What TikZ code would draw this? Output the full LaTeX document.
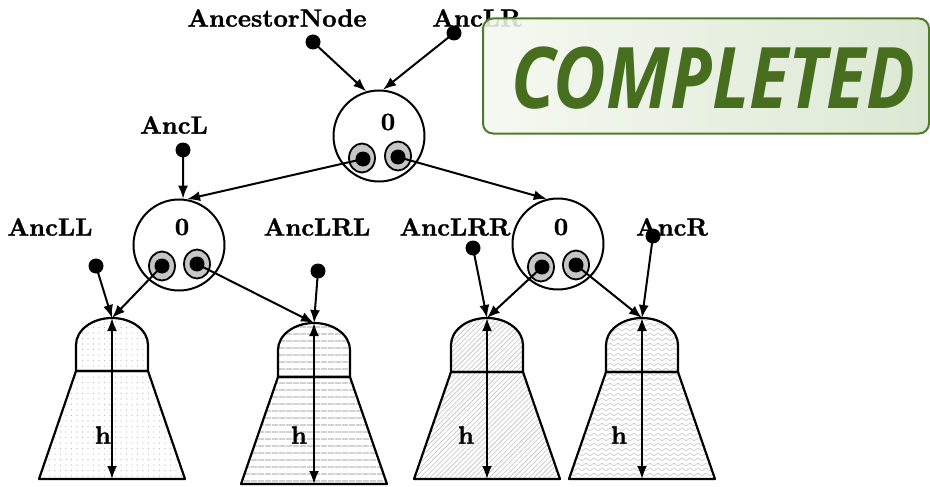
\documentclass[tikz,border=0pt]{standalone}
\usepackage{fontspec}
\newfontfamily\stampfont[FakeStretch=0.85]{Open Sans}
\newfontfamily\lblfont[FakeBold=1.2]{lmroman10-bold.otf}
\usetikzlibrary{arrows.meta,patterns,patterns.meta,shapes.geometric}
\definecolor{stampgreen}{HTML}{466E1E}
\definecolor{stampedge}{HTML}{4E7A2A}
\definecolor{stampleft}{HTML}{F4F8F0}
\definecolor{stampright}{HTML}{D7E5CD}
\tikzdeclarepattern{name=mywaves, type=colored,
  bounding box={(-0.1pt,-0.1pt) and (8.1pt,5.1pt)}, tile size={(8pt,5pt)},
  code={\draw[gray!45,line width=0.6pt] (0pt,2.5pt) sin (2pt,3.8pt) cos (4pt,2.5pt) sin (6pt,1.2pt) cos (8pt,2.5pt);}}
\tikzset{
  lbl/.style={font=\lblfont\fontsize{25}{30}\selectfont, inner sep=0pt},
  bignode/.style={circle, draw, line width=2pt, minimum size=91pt, inner sep=0pt},
  port/.style={ellipse, draw, fill=gray!45, line width=1.8pt, minimum width=26pt, minimum height=29pt, inner sep=0pt},
  blackdot/.style={circle, fill=black, minimum size=15pt, inner sep=0pt},
  arr/.style={-{Latex[length=13pt,width=10pt]}, line width=2pt},
  harr/.style={{Latex[length=13pt,width=10pt]}-{Latex[length=13pt,width=10pt]}, line width=2pt},
  treeline/.style={line width=2.2pt, line join=round},
}
% #1 cx, #2 top y, #3 side start y, #4 rect bottom, #5 bottom y, #6 pattern, #7 name, #8 h x
\newcommand\treeglyph[8]{%
  \coordinate (t#7) at (#1,#2);
  \coordinate (b#7) at (#1,#5);
  \fill[#6] (#1-36,#3) arc[start angle=180,end angle=360,x radius=36,y radius=#3-#2] -- (#1+36,#4) -- (#1+73,#5) -- (#1-73,#5) -- (#1-36,#4) -- cycle;
  \draw[treeline] (#1-36,#3) arc[start angle=180,end angle=360,x radius=36,y radius=#3-#2] -- (#1+36,#4) -- (#1-36,#4) -- cycle;
  \draw[treeline] (#1-36,#4) -- (#1+36,#4) -- (#1+73,#5) -- (#1-73,#5) -- cycle;
  \draw[harr] (t#7) -- (b#7);
  \node[lbl] (h#7) at (#8,435) {h};
}
\begin{document}
\begin{tikzpicture}[x=1pt,y=-1pt]
\useasboundingbox (0,0) rectangle (930,487);

% trees
\treeglyph{112}{318}{345}{371}{479}{pattern={Dots[distance=5.5pt,radius=0.7pt]},pattern color=gray!55}{1}{103}
\treeglyph{314}{323}{350}{377}{484}{pattern={Lines[angle=0,distance=6.5pt,line width=2pt]},pattern color=gray!35}{2}{299}
\treeglyph{487}{318}{345}{372}{479}{pattern={Lines[angle=45,distance=3.5pt,line width=0.6pt]},pattern color=gray!50}{3}{466}
\treeglyph{642}{318}{345}{372}{479}{pattern=mywaves}{4}{619}

% big nodes
\node[bignode] (top) at (379,136) {};
\node[bignode] (L) at (179,245) {};
\node[bignode] (R) at (558,244) {};
\node[lbl] (ztop) at (388,122) {0};
\node[lbl] (zL) at (182,227) {0};
\node[lbl] (zR) at (561,227) {0};

% ports
\node[port] (topPl) at (362,158) {};
\node[port] (topPr) at (398,156) {};
\node[port] (LPl) at (162,266) {};
\node[port] (LPr) at (197,264) {};
\node[port] (RPl) at (541,267) {};
\node[port] (RPr) at (576,265) {};
\node[blackdot] (topDl) at (363,159) {};
\node[blackdot] (topDr) at (398,157) {};
\node[blackdot] (LDl) at (162,266) {};
\node[blackdot] (LDr) at (197,264) {};
\node[blackdot] (RDl) at (542,267) {};
\node[blackdot] (RDr) at (576,265) {};

% labels
\node[lbl] (lAncestor) at (277,18) {AncestorNode};
\node[lbl] (lAncLR) at (477,18) {AncLR};
\node[lbl] (lAncL) at (174,125) {AncL};
\node[lbl] (lAncLL) at (50,227) {AncLL};
\node[lbl] (lAncLRL) at (317,227) {AncLRL};
\node[lbl] (lAncLRR) at (455,227) {AncLRR};
\node[lbl] (lAncR) at (672,227) {AncR};

% pointer dots
\node[blackdot] (dAncestor) at (313,42) {};
\node[blackdot] (dAncLR) at (454,33) {};
\node[blackdot] (dAncL) at (183,150) {};
\node[blackdot] (dAncLL) at (96,266) {};
\node[blackdot] (dAncLRL) at (318,271) {};
\node[blackdot] (dAncLRR) at (473,248) {};
\node[blackdot] (dAncR) at (653,236) {};

% connectors
\draw[arr] (dAncestor.center) -- (top.106);
\draw[arr] (dAncLR.center) -- (top.85);
\draw[arr] (dAncL.center) -- (L.85);
\draw[arr] (topDl.center) -- (L.80);
\draw[arr] (topDr.center) -- (R.104);
\draw[arr] (dAncLL.center) -- (t1);
\draw[arr] (LDl.center) -- (t1);
\draw[arr] (LDr.center) -- (t2);
\draw[arr] (dAncLRL.center) -- (t2);
\draw[arr] (dAncLRR.center) -- (t3);
\draw[arr] (RDl.center) -- (t3);
\draw[arr] (RDr.center) -- (t4);
\draw[arr] (dAncR.center) -- (t4);

% stamp
\node[draw=stampedge, line width=2pt, rounded corners=10pt, left color=stampleft, right color=stampright, fill opacity=0.88, minimum width=446pt, minimum height=115pt, inner sep=0pt] (stamp) at (706,76) {};
\node[text=stampgreen, inner sep=0pt, font=\stampfont\bfseries\itshape\fontsize{85}{90}\selectfont] (stamptext) at (713,78) {COMPLETED};
\end{tikzpicture}
\end{document}
